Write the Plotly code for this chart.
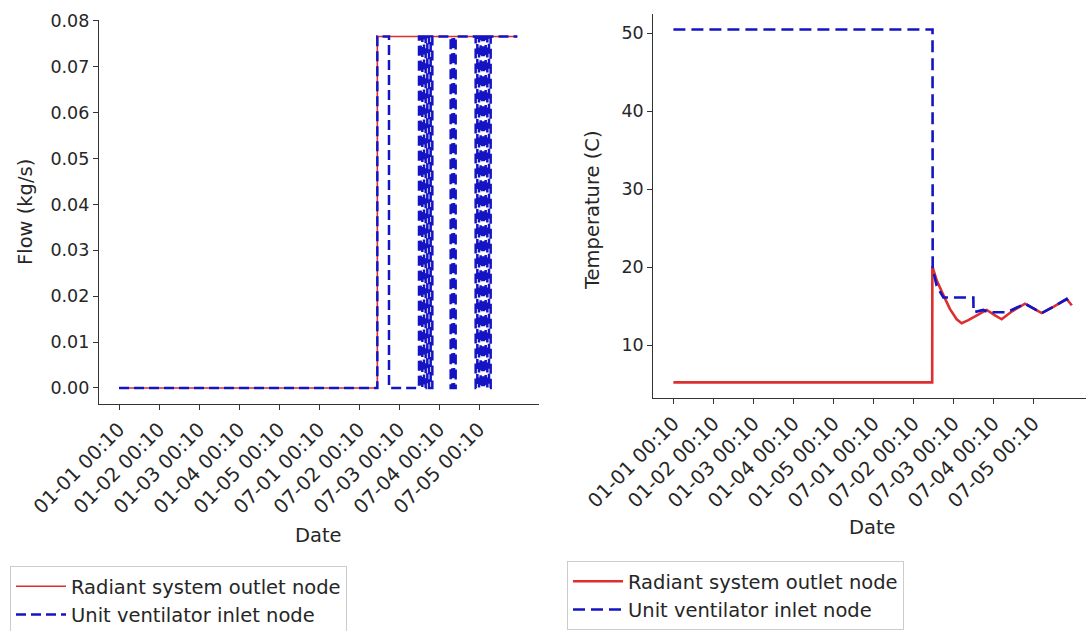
import plotly.graph_objects as go

# ---------------- data ----------------
tick_hours = [0, 24, 48, 72, 96, 120, 144, 168, 192, 216]
tick_labels = ["01-01 00:10", "01-02 00:10", "01-03 00:10", "01-04 00:10", "01-05 00:10",
               "07-01 00:10", "07-02 00:10", "07-03 00:10", "07-04 00:10", "07-05 00:10"]

# Flow (kg/s) - step series (hour index, value)
flow_rad_hour = [0, 155, 239]
flow_rad_value = [0.0, 0.0766, 0.0766]

flow_uv_hour = [0, 155, 162, 180, 181, 182, 183, 184, 185, 186, 187, 188,
                199, 200, 201, 202,
                214, 215, 216, 217, 218, 219, 220, 221, 222, 223, 239]
flow_uv_value = [0.0, 0.0766, 0.0, 0.0766, 0.0, 0.0766, 0.0, 0.0766, 0.0, 0.0766, 0.0, 0.0766,
                 0.0, 0.0766, 0.0, 0.0766,
                 0.0, 0.0766, 0.0, 0.0766, 0.0, 0.0766, 0.0, 0.0766, 0.0, 0.0766, 0.0766]

# Temperature (C)
temp_rad_hour = [0, 155.3, 155.4, 158, 162, 166, 170, 173, 177, 182, 188, 193, 197,
                 203, 211, 216, 221, 228, 236, 239]
temp_rad_value = [5.2, 5.2, 20.1, 18.3, 16.4, 14.6, 13.3, 12.8, 13.2, 13.8, 14.5, 13.8, 13.3,
                  14.3, 15.3, 14.7, 14.1, 14.9, 15.9, 15.1]

temp_uv_hour = [0, 155.5, 155.6, 158, 162, 180, 180.1, 186, 189, 200, 203, 211,
                216, 221, 228, 236, 239]
temp_uv_value = [50.5, 50.5, 19.8, 17.6, 16.1, 16.1, 14.2, 14.5, 14.2, 14.2, 14.5, 15.3,
                 14.7, 14.1, 14.9, 15.9, 15.1]

series_names = ["Radiant system outlet node", "Unit ventilator inlet node"]

# ---------------- styling ----------------
RED = "#dc2f2f"
BLUE = "#1414c4"
FONT = "DejaVu Sans"
TXT = "#262626"
W, H = 1086, 631

fig = go.Figure()

fig.add_trace(go.Scatter(x=flow_rad_hour, y=flow_rad_value, mode="lines", line_shape="hv",
                         name=series_names[0], line=dict(color=RED, width=1.6),
                         xaxis="x", yaxis="y", legend="legend"))
fig.add_trace(go.Scatter(x=flow_uv_hour, y=flow_uv_value, mode="lines", line_shape="hv",
                         name=series_names[1], line=dict(color=BLUE, width=2.5, dash="10px,5px"),
                         xaxis="x", yaxis="y", legend="legend"))

fig.add_trace(go.Scatter(x=temp_rad_hour, y=temp_rad_value, mode="lines",
                         name=series_names[0], line=dict(color=RED, width=2.6),
                         xaxis="x2", yaxis="y2", legend="legend2"))
fig.add_trace(go.Scatter(x=temp_uv_hour, y=temp_uv_value, mode="lines",
                         name=series_names[1], line=dict(color=BLUE, width=2.6, dash="12px,6px"),
                         xaxis="x2", yaxis="y2", legend="legend2"))

axis_common = dict(showline=True, linecolor="#333333", linewidth=1.3, ticks="outside",
                   ticklen=5, tickwidth=1.3, tickcolor="#333333", showgrid=False,
                   zeroline=False, automargin=False)
xfont = dict(family=FONT, size=19.5, color=TXT)
yfont = dict(family=FONT, size=17.5, color=TXT)
lfont = dict(family=FONT, size=19.5, color=TXT)

fig.update_layout(
    template="none",
    width=W, height=H,
    margin=dict(l=0, r=0, t=0, b=0, autoexpand=False),
    paper_bgcolor="white", plot_bgcolor="white",
    font=dict(family=FONT, size=17, color=TXT),
    xaxis=dict(domain=[99 / W, 539 / W], range=[-12, 252], tickvals=tick_hours,
               ticktext=tick_labels, tickangle=-45, anchor="y", tickfont=xfont, **axis_common),
    yaxis=dict(domain=[1 - 404 / H, 1 - 20 / H], range=[-0.0035, 0.0802],
               tickvals=[0, 0.01, 0.02, 0.03, 0.04, 0.05, 0.06, 0.07, 0.08],
               tickformat=".2f", anchor="x", tickfont=yfont, **axis_common),
    xaxis2=dict(domain=[653.4 / W, 1.0], range=[-12, 247.6], tickvals=tick_hours,
                ticktext=tick_labels, tickangle=-45, anchor="y2", tickfont=xfont, **axis_common),
    yaxis2=dict(domain=[1 - 398 / H, 1 - 14 / H], range=[3.2, 52.48],
                tickvals=[10, 20, 30, 40, 50], anchor="x2", tickfont=yfont, **axis_common),
    legend=dict(x=10 / W, y=1 - 566 / H, xanchor="left", yanchor="top", itemwidth=50,
                bordercolor="#cccccc", borderwidth=1, bgcolor="white", font=lfont),
    legend2=dict(x=567 / W, y=1 - 561 / H, xanchor="left", yanchor="top", itemwidth=50,
                 bordercolor="#cccccc", borderwidth=1, bgcolor="white", font=lfont),
    annotations=[
        dict(text="Flow (kg/s)", x=25 / W, y=1 - 212 / H, xref="paper", yref="paper",
             xanchor="center", yanchor="middle",
             textangle=-90, showarrow=False, font=lfont),
        dict(text="Date", x=318.5 / W, y=1 - 535 / H, xref="paper", yref="paper",
             xanchor="center", yanchor="middle", showarrow=False, font=lfont),
        dict(text="Temperature (C)", x=592 / W, y=1 - 210 / H, xref="paper", yref="paper",
             xanchor="center", yanchor="middle",
             textangle=-90, showarrow=False, font=lfont),
        dict(text="Date", x=872.5 / W, y=1 - 527 / H, xref="paper", yref="paper",
             xanchor="center", yanchor="middle", showarrow=False, font=lfont),
    ],
)

fig.write_html("out.html")
